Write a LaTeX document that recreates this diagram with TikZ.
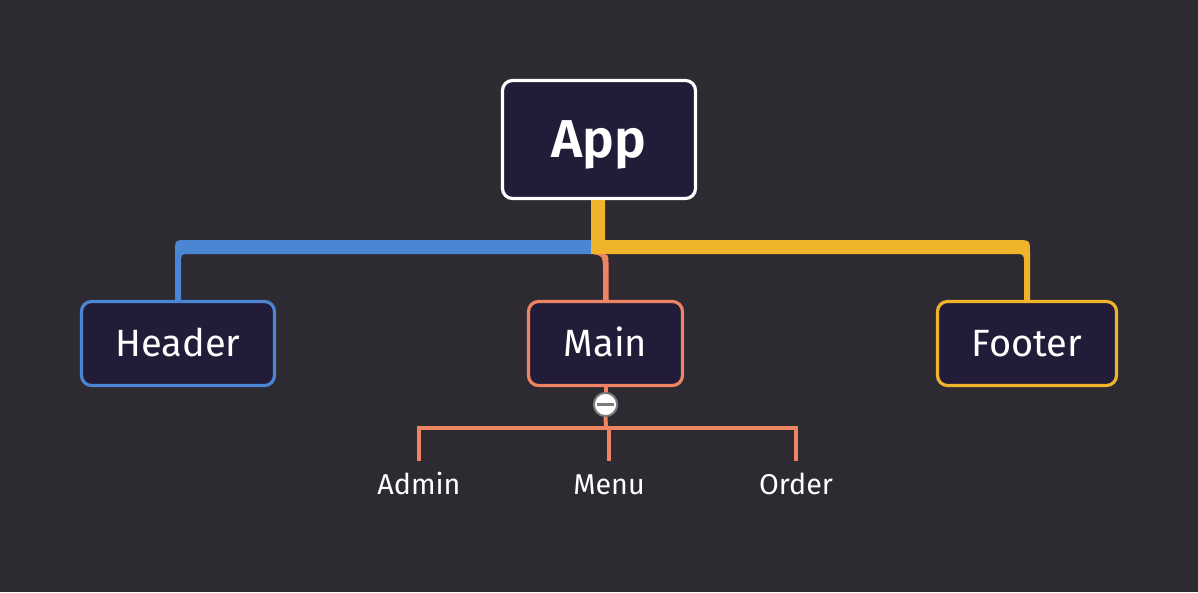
\documentclass[tikz,border=0pt]{standalone}
\usepackage{fontspec}
\setmainfont{Fira Sans}
\newfontfamily\appfont{Fira Sans SemiBold}
\usetikzlibrary{calc}
\definecolor{bg}{HTML}{2D2A32}
\definecolor{nodefill}{HTML}{221C38}
\definecolor{cblue}{HTML}{4A86D4}
\definecolor{cyellow}{HTML}{F0B42A}
\definecolor{corange}{HTML}{EF8463}
\definecolor{cgray}{HTML}{7A7A7A}
\tikzset{
  box/.style={draw, fill=nodefill, rounded corners=7.5pt, line width=2.4pt, text=white, inner sep=0pt, minimum height=63pt, text height=19.6pt, text depth=0pt, font=\fontsize{28.5}{32}\selectfont},
  leaf/.style={text=white, font=\fontsize{21.5}{24}\selectfont, inner sep=0pt, text height=15pt, text depth=0pt, anchor=north},
  sub/.style={corange, line width=3pt},
}
\begin{document}
\begin{tikzpicture}[x=0.75pt, y=-0.75pt]
\fill[bg] (0,0) rectangle (1198,592);
\useasboundingbox (0,0) rectangle (1198,592);

% nodes
\node[box, draw=white, minimum width=144.75pt, minimum height=88.5pt, text height=27.6pt, font=\fontsize{40}{46}\selectfont\appfont] (app) at (599,139.5) {App};
\node[box, draw=cblue, minimum width=144.75pt] (hdr) at (178,343.5) {Header};
\node[box, draw=corange, minimum width=115.5pt] (main) at (605.5,343.5) {Main};
\node[box, draw=cyellow, minimum width=134.25pt] (ftr) at (1027,343.5) {Footer};

\coordinate (bar) at (591,247);

% blue branch
\fill[cblue] ($(bar)+(0,-7)$) -- ($(hdr.north|-bar)+(9,-7)$)
  .. controls ($(hdr.north|-bar)+(-3,-7)$) .. ($(hdr.north|-bar)+(-3,5)$)
  -- ($(hdr.north)+(-3,0)$) -- ($(hdr.north)+(3,0)$)
  -- ($(hdr.north|-bar)+(3,16)$)
  .. controls ($(hdr.north|-bar)+(3,7)$) .. ($(hdr.north|-bar)+(12,7)$)
  -- ($(bar)+(0,7)$) -- cycle;

% yellow branch (including stem from App)
\fill[cyellow] ($(app.south)+(-8,0)$) -- ($(app.south)+(6,0)$) -- ($(bar)+(14,-7)$)
  -- ($(ftr.north|-bar)+(-11,-7)$)
  .. controls ($(ftr.north|-bar)+(3,-7)$) .. ($(ftr.north|-bar)+(3,6)$)
  -- ($(ftr.north)+(3,0)$) -- ($(ftr.north)+(-3,0)$)
  -- ($(ftr.north|-bar)+(-3,16)$)
  .. controls ($(ftr.north|-bar)+(-3,7)$) .. ($(ftr.north|-bar)+(-12,7)$)
  -- ($(bar)+(0,7)$) -- cycle;

% orange branch
\fill[corange] ($(bar)+(2,7)$) -- ($(main.north|-bar)+(-6,7)$)
  .. controls ($(main.north|-bar)+(3,7)$) .. ($(main.north|-bar)+(3,17)$)
  -- ($(main.north)+(3,0)$) -- ($(main.north)+(-2.5,0)$)
  -- ($(main.north|-bar)+(-2.5,20)$)
  .. controls ($(main.north|-bar)+(-3,9)$) .. ($(bar)+(2,7)$) -- cycle;

% collapse toggle
\node[circle, draw=cgray, fill=white, line width=1.5pt, minimum size=17.5pt, inner sep=0pt] (tog) at (605.5,404.5) {};
\draw[cgray, line width=1.6pt] ($(tog.center)+(-8.5,0)$) -- ($(tog.center)+(8.5,0)$);

% leaves
\node[leaf] (admin) at (419,474) {Admin};
\node[leaf] (menu) at (609,474) {Menu};
\node[leaf] (order) at (796,474) {Order};

\coordinate (split) at (606,428);
\draw[sub] (main.south) -- (tog.north);
\draw[sub] (tog.south) -- (split);
\draw[sub, line cap=rect] (admin.north|-split) -- (order.north|-split);
\draw[sub] (admin.north|-split) -- ($(admin.north)+(0,-13)$);
\draw[sub] (menu.north|-split) -- ($(menu.north)+(0,-13)$);
\draw[sub] (order.north|-split) -- ($(order.north)+(0,-13)$);
\end{tikzpicture}
\end{document}
